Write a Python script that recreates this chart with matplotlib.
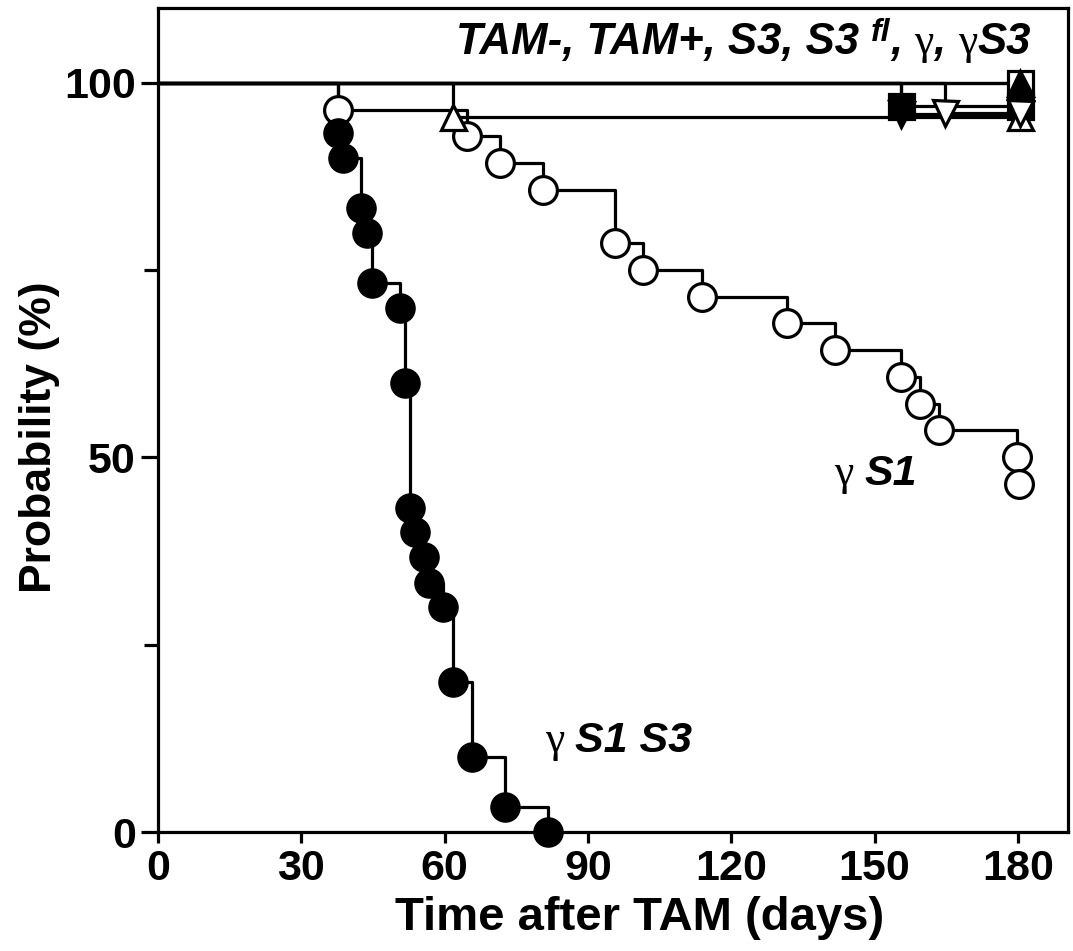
import matplotlib
matplotlib.use('Agg')
import matplotlib.pyplot as plt
from matplotlib.ticker import FixedLocator

plt.rcParams['font.family'] = ['Liberation Sans', 'DejaVu Sans']

# gamma S1 S3 (filled circles): event day, survival %
s1s3_days = [37.7, 38.7, 42.6, 43.7, 44.7, 50.6, 51.7, 52.7, 53.8, 55.7, 56.8, 59.7, 61.8, 65.7, 72.6, 81.6]
s1s3_surv = [93.3, 90.0, 83.3, 80.0, 73.3, 70.0, 60.0, 43.3, 40.0, 36.7, 33.3, 30.0, 20.0, 10.0, 3.3, 0.0]

# gamma S1 (open circles)
s1_days = [37.7, 64.6, 71.6, 80.6, 95.6, 101.6, 113.8, 131.6, 141.7, 155.6, 159.5, 163.5, 179.8, 180.3]
s1_surv = [96.4, 92.9, 89.3, 85.7, 78.6, 75.0, 71.4, 67.9, 64.3, 60.7, 57.1, 53.6, 50.0, 46.4]

# the six near-100% groups: marker, filled, drop day (None = no death), level after drop
group_names = ['TAM-', 'TAM+', 'S3', 'S3 fl', 'gamma', 'gamma S3']
group_marker = ['s', '^', 's', 'v', '^', 'v']
group_filled = [False, True, True, True, False, False]
group_drop = [None, None, 155.6, 155.6, 61.7, 164.7]
group_level = [100.0, 100.0, 96.9, 95.8, 95.5, 96.0]
end_day = 180.5

fig = plt.figure(figsize=(10.73, 9.51), dpi=100)
ax = fig.add_axes([158 / 1073, 1 - 832 / 951, 910 / 1073, 824 / 951])
ax.set_xlim(0, 190.5)
ax.set_ylim(0, 110)

lw = 2.3
# group curves
for m, f, d, lev in zip(group_marker, group_filled, group_drop, group_level):
    if d is None:
        xs, ys = [0, end_day], [100, 100]
        mx, my = [end_day], [lev]
    else:
        xs, ys = [0, d, end_day], [100, lev, lev]
        mx, my = [d, end_day], [lev, lev]
    ax.step(xs, ys, where='post', color='black', lw=lw, zorder=2)
    ax.plot(mx, my, ls='none', marker=m, ms=18, mew=2.3, mec='black',
            mfc='black' if f else 'white', zorder=4, clip_on=False)

# gamma S1
ax.step([0] + s1_days, [100] + s1_surv, where='post', color='black', lw=lw, zorder=2)
ax.plot(s1_days, s1_surv, ls='none', marker='o', ms=20, mew=2.3, mec='black',
        mfc='white', zorder=3, clip_on=False)

# gamma S1 S3
ax.step([0] + s1s3_days, [100] + s1s3_surv, where='post', color='black', lw=lw, zorder=2)
ax.plot(s1s3_days, s1s3_surv, ls='none', marker='o', ms=21, mew=1, mec='black',
        mfc='black', zorder=3, clip_on=False)

for sp in ax.spines.values():
    sp.set_linewidth(2.3)

ax.xaxis.set_major_locator(FixedLocator([0, 30, 60, 90, 120, 150, 180]))
ax.yaxis.set_major_locator(FixedLocator([0, 50, 100]))
ax.yaxis.set_minor_locator(FixedLocator([25, 75]))
ax.tick_params(axis='both', which='major', direction='out', width=2.3, labelsize=31, pad=4)
ax.tick_params(axis='x', which='major', length=8)
ax.tick_params(axis='y', which='major', length=12)
ax.tick_params(axis='y', which='minor', direction='out', width=2.3, length=10)
ax.tick_params(top=False, right=False)
for lab in ax.get_xticklabels() + ax.get_yticklabels():
    lab.set_fontweight('bold')

ax.set_xlabel('Time after TAM (days)', fontsize=34, fontweight='bold')
ax.xaxis.set_label_coords(0.5297, -0.078)
ax.set_ylabel('Probability (%)', fontsize=32, fontweight='bold')
ax.yaxis.set_label_coords(-0.108, 0.479)

fig.canvas.draw()
renderer = fig.canvas.get_renderer()

bi = dict(fontsize=31.5, fontweight='bold', fontstyle='italic', family='Liberation Sans')
gm = dict(fontsize=31.5, family='Liberation Serif')


def put_pieces(x, y, pieces):
    px, py = ax.transData.transform((x, y))
    for s, kw, dy in pieces:
        t = fig.text(px / fig.bbox.width, (py + dy) / fig.bbox.height, s,
                     va='baseline', ha='left', **kw)
        px += t.get_window_extent(renderer).width


put_pieces(62.3, 103.8, [
    ('TAM-, TAM+, S3, S3 ', bi, 0),
    ('fl', dict(bi, fontsize=23), 13),
    (', ', bi, 0),
    ('γ', gm, 0),
    (', ', bi, 0),
    ('γ', gm, 0),
    ('S3', bi, 0),
])
put_pieces(141.5, 46.3, [('γ ', gm, 0), ('S1', dict(bi, fontsize=31), 0)])
put_pieces(81.0, 10.7, [('γ ', gm, 0), ('S1 S3', dict(bi, fontsize=31), 0)])

fig.savefig('out.png', dpi=100)
